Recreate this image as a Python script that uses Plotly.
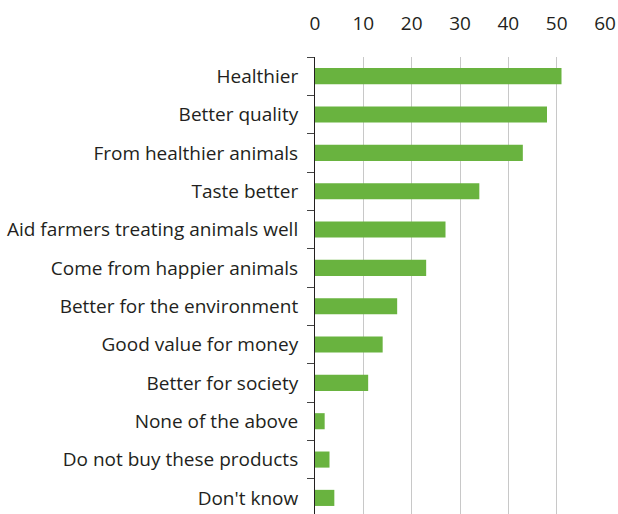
import plotly.graph_objects as go

categories = [
    "Healthier",
    "Better quality",
    "From healthier animals",
    "Taste better",
    "Aid farmers treating animals well",
    "Come from happier animals",
    "Better for the environment",
    "Good value for money",
    "Better for society",
    "None of the above",
    "Do not buy these products",
    "Don't know",
]
values = [51, 48, 43, 34, 27, 23, 17, 14, 11, 2, 3, 4]
x_ticks = [0, 10, 20, 30, 40, 50, 60]

FONT = "Open Sans"
TEXT = "#231f20"

fig = go.Figure(
    go.Bar(
        x=values,
        y=categories,
        orientation="h",
        marker=dict(color="#69b33f", line=dict(width=0)),
        width=0.42,
    )
)

fig.update_layout(
    width=618,
    height=514,
    margin=dict(l=315, r=13, t=57, b=0),
    plot_bgcolor="white",
    paper_bgcolor="white",
    showlegend=False,
    font=dict(family=FONT, size=19, color=TEXT),
)

fig.update_xaxes(
    side="top",
    range=[0, 60],
    tickvals=x_ticks,
    ticktext=[str(v) for v in x_ticks],
    showgrid=True,
    gridcolor="#c8c8c8",
    gridwidth=1,
    zeroline=False,
    showline=False,
    ticks="",
    tickfont=dict(family=FONT, size=19, color=TEXT),
    ticklabelstandoff=22,
    fixedrange=True,
)

fig.update_yaxes(
    type="category",
    categoryorder="array",
    categoryarray=categories,
    range=[11.42, -0.5],
    showgrid=False,
    zeroline=False,
    showline=True,
    linecolor="#231f20",
    linewidth=1,
    ticks="outside",
    tickson="boundaries",
    ticklen=7,
    tickcolor="#444444",
    tickwidth=1,
    tickfont=dict(family=FONT, size=19, color=TEXT),
    ticklabelstandoff=12,
    fixedrange=True,
)

fig.write_html("out.html")
